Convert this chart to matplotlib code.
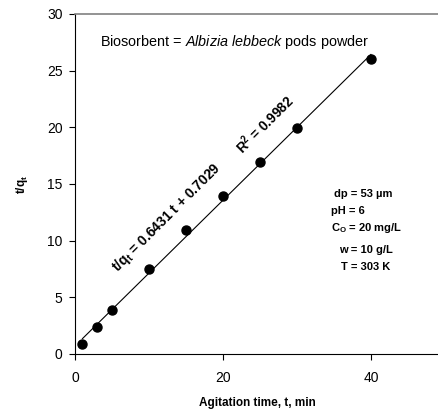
import matplotlib
matplotlib.use("Agg")
import matplotlib.pyplot as plt
import numpy as np

plt.rcParams["font.family"] = ["Liberation Sans", "DejaVu Sans"]
plt.rcParams["mathtext.fontset"] = "custom"
plt.rcParams["mathtext.rm"] = "Liberation Sans"
plt.rcParams["mathtext.it"] = "Liberation Sans:italic"
plt.rcParams["mathtext.bf"] = "Liberation Sans:bold"

# Pseudo-second-order kinetics data
t_min = [1, 3, 5, 10, 15, 20, 25, 30, 40]
t_over_qt = [0.9, 2.4, 3.9, 7.5, 10.9, 13.9, 16.9, 19.9, 26.0]
slope = 0.6431
intercept = 0.7029
x_ticks = [0, 20, 40]
y_ticks = [0, 5, 10, 15, 20, 25, 30]

fig = plt.figure(figsize=(4.39, 4.11), dpi=100)
ax = fig.add_axes([0.171, 0.139, 0.829, 0.827])

fit_x = np.array([t_min[0], t_min[-1]])
ax.plot(fit_x, slope * fit_x + intercept, color="black", linewidth=0.8)
ax.plot(t_min, t_over_qt, "o", color="black", markersize=6.5)

ax.set_xlim(0, 49.2)
ax.set_ylim(0, 30)
ax.set_xticks(x_ticks)
ax.set_yticks(y_ticks)
ax.tick_params(direction="out", length=4, labelsize=10, width=0.8, pad=5)
ax.tick_params(axis="x", pad=8)
ax.spines["right"].set_visible(False)
ax.spines["top"].set_color("gray")
ax.spines["top"].set_linewidth(1.2)

ax.set_xlabel("Agitation time, t, min", fontsize=8.5, fontweight="bold", labelpad=9)
ax.set_ylabel("t/q$_\\mathbf{t}$", fontsize=8.5, fontweight="bold", labelpad=12)

ax.text(3.4, 27.5, "Biosorbent = $\\it{Albizia\\ lebbeck}$ pods powder",
        fontsize=10.4, ha="left", va="center")
ax.text(12.4, 12.0, "t/q$_\\mathbf{t}$ = 0.6431 t + 0.7029", fontsize=10,
        fontweight="bold", rotation=45, ha="center", va="center",
        rotation_mode="anchor")
ax.text(25.6, 20.3, "R$^\\mathbf{2}$ = 0.9982", fontsize=9.8,
        fontweight="bold", rotation=45, ha="center", va="center",
        rotation_mode="anchor")

params = [
    (35.0, 14.1, "dp = 53 \u00b5m"),
    (34.6, 12.6, "pH = 6"),
    (34.6, 11.1, "C$_\\mathbf{O}$ = 20 mg/L"),
    (35.7, 9.2, "w = 10 g/L"),
    (35.9, 7.7, "T = 303 K"),
]
for px, py, txt in params:
    ax.text(px, py, txt, fontsize=8, fontweight="bold", ha="left", va="center")

fig.savefig("out.png", dpi=100)
